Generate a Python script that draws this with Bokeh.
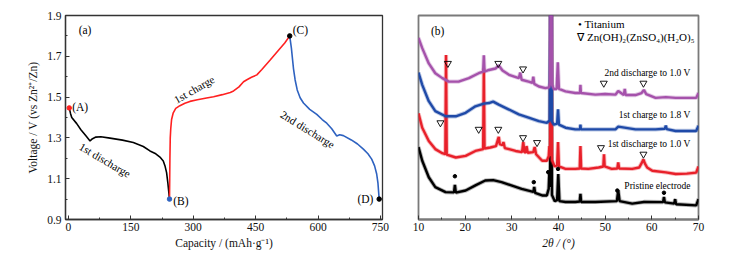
from bokeh.plotting import figure
from bokeh.layouts import row
from bokeh.models import Range1d, FixedTicker
from bokeh.core.properties import value
from bokeh.embed import file_html
from bokeh.resources import INLINE

FONT = "Liberation Serif"

# ---------------- Panel (a) data ----------------
dis1_cap = [2, 5, 8, 20, 30, 42, 52, 58, 66, 78, 100, 130, 156, 180, 196, 210, 220, 228, 232, 236, 239, 241, 243]
dis1_v = [1.447, 1.42, 1.40, 1.37, 1.34, 1.31, 1.285, 1.296, 1.304, 1.306, 1.299, 1.289, 1.277, 1.258, 1.236,
          1.222, 1.206, 1.187, 1.164, 1.13, 1.08, 1.04, 1.0]

chg1_cap = [243, 243.5, 244, 244.8, 246, 248, 252, 258, 268, 280, 292, 310, 332, 349, 370, 389, 397, 410,
            421, 429, 440, 453, 465, 485, 505, 520, 532]
chg1_v = [1.0, 1.1, 1.2, 1.3, 1.345, 1.39, 1.423, 1.445, 1.458, 1.47, 1.479, 1.487, 1.496, 1.502, 1.512,
          1.523, 1.53, 1.55, 1.575, 1.585, 1.597, 1.609, 1.635, 1.682, 1.73, 1.765, 1.8]

dis2_cap = [532, 534, 536, 538, 541, 545, 550, 557, 565, 580, 597, 610, 621, 633, 645, 652, 661, 680, 695,
            709, 720, 729, 736, 741, 744, 745.5, 747]
dis2_v = [1.8, 1.77, 1.74, 1.70, 1.64, 1.584, 1.535, 1.497, 1.471, 1.44, 1.415, 1.39, 1.372, 1.345, 1.309,
          1.315, 1.311, 1.29, 1.27, 1.245, 1.222, 1.196, 1.163, 1.123, 1.08, 1.04, 1.0]

pt_cap = [2, 243, 532, 747]
pt_v = [1.447, 1.0, 1.8, 1.0]
pt_col = ["#ff2020", "#2e62c0", "#000000", "#000000"]
pt_lab = ["(A)", "(B)", "(C)", "(D)"]

a_xticks = [0, 150, 300, 450, 600, 750]
a_xminor = [75, 225, 375, 525, 675]
a_yticks = [0.9, 1.1, 1.3, 1.5, 1.7, 1.9]
a_yminor = [1.0, 1.2, 1.4, 1.6, 1.8]

# ---------------- Panel (b) data ----------------
pur_t = [10.0, 10.8, 12.2, 13.6, 15.1, 16.5, 18.6, 20.8, 22.9, 23.85, 24.0, 24.15, 25.1, 26.5, 27.2, 28.0, 29.4,
         31.5, 31.8, 32.1, 33.6, 34.4, 34.6, 34.8, 35.8, 37.2, 38.0, 38.2, 38.4, 38.6, 39.0, 39.6, 39.85, 40.1,
         41.5, 43.6, 44.6, 44.7, 44.8, 47.9, 50.0, 52.2, 52.8, 54.0, 54.2, 54.4, 56.5, 57.8, 58.3, 58.8, 60.8,
         63.0, 65.1, 67.0, 69.5, 70.0]
pur_i = [89, 84, 76.5, 71.7, 69.3, 67.6, 67.6, 69.3, 71.7, 72.5, 80.5, 72.5, 73.3, 74, 75.5, 73, 70.9,
         69.3, 72, 68.5, 67.6, 67, 70, 66.5, 65.2, 64.4, 64.8, 67, 150, 66, 64, 64, 77, 64,
         62.8, 62, 62, 66, 62, 61.2, 61.5, 61.2, 63, 61, 64, 61, 61, 62, 63.5, 61.5, 59.6,
         60, 59.6, 59.6, 59.6, 62]

blu_t = [10.0, 10.8, 12.2, 13.6, 15.8, 18.0, 20.1, 22.2, 24.0, 25.1, 26.0, 27.2, 29.4, 31.5, 33.6, 35.8, 37.5,
         38.1, 38.4, 38.6, 39.0, 39.7, 39.9, 40.1, 41.5, 43.6, 44.6, 44.7, 44.8, 47.9, 52.2, 52.8, 56.5, 60.8,
         62.8, 63.0, 63.2, 65.1, 67.5, 69.5, 70.0]
blu_i = [72, 66, 58, 53.1, 50.6, 50.6, 52.3, 55.5, 56.8, 57.1, 57.8, 56.3, 53.9, 51.5, 49.9, 48.2, 47.4,
         48.5, 150, 48, 46.5, 47, 54, 46.5, 45, 44.2, 44.2, 46.5, 44.2, 44.2, 44.2, 45.5, 44.2, 44.2,
         44.5, 46, 44.3, 43.4, 43.4, 43.4, 46]

red_t = [10.0, 10.8, 12.2, 13.6, 15.1, 15.75, 15.9, 16.05, 18.0, 20.1, 22.2, 23.85, 24.0, 24.15, 25.4, 26.6, 27.0,
         27.2, 27.4, 28.0, 28.2, 28.5, 29.4, 30.8, 32.2, 32.45, 32.7, 33.0, 33.15, 33.4, 34.6, 34.9, 35.2, 36.5,
         37.5, 37.9, 38.05, 38.2, 38.4, 38.6, 39.2, 39.7, 39.9, 40.1, 41.5, 43.6, 44.55, 44.7, 44.85, 46.4, 48.6,
         49.6, 49.75, 49.9, 51.4, 52.6, 52.8, 53.0, 55.8, 57.3, 57.9, 58.2, 58.5, 59.0, 60.1, 63.0, 65.1, 67.5,
         69.5, 70.0]
red_i = [52, 45, 38.5, 34.5, 32.5, 32, 80.6, 31.8, 30.4, 31.2, 33.6, 34.5, 74, 34.8, 35.3, 36, 39,
         40.5, 37, 36.5, 38, 35, 34.5, 33.6, 33, 38, 33, 33, 36, 32.7, 33, 35.5, 32, 28.8,
         28.8, 31, 36, 31, 150, 29, 26, 26.5, 38, 26, 24.8, 24.8, 25, 36, 25, 24.8, 25.5,
         26, 32, 26, 24.8, 25, 28, 25, 24.8, 25.5, 28, 29.5, 27.5, 25.5, 23.9, 23.1, 22.3, 22.5,
         23, 26]

blk_t = [10.0, 10.8, 12.2, 13.6, 15.8, 17.6, 17.8, 18.0, 20.1, 22.2, 24.3, 26.0, 27.8, 29.9, 32.1, 34.6, 34.8,
         35.0, 36.5, 37.5, 37.9, 38.05, 38.2, 38.4, 38.6, 39.2, 39.7, 39.95, 40.2, 41.5, 43.6, 44.55, 44.7,
         44.85, 47.9, 52.5, 52.8, 53.1, 55.8, 58.3, 62.4, 62.6, 62.8, 64.8, 65.0, 65.2, 69.5, 70.0]
blk_i = [35.5, 28.8, 20.7, 15.9, 13.4, 13.3, 17, 13.2, 14.2, 16.7, 19.1, 19.3, 18.3, 16.7, 15, 13.5, 16,
         13, 11.8, 11.8, 15, 24, 16, 150, 12, 9, 9.5, 22.3, 9, 8.6, 8.6, 8.8, 12.6,
         8.6, 8.6, 9, 14.2, 9, 7.8, 8.6, 8.5, 11, 8.4, 7.8, 10, 7.5, 6.9, 10]

tri_t = [16.3, 27.1, 32.4, 49.7, 58.2, 14.7, 22.9, 27.1, 32.4, 35.4, 49.1, 58.2]
tri_i = [76.5, 76.5, 73.8, 66.8, 66.8, 47.4, 44.2, 44.2, 40.1, 37.7, 35.2, 32.0]
dot_t = [17.8, 34.7, 37.8, 39.9, 52.6, 62.6]
dot_i = [21.2, 18.3, 23.2, 24.8, 14.2, 13.1]

curve_labels = ["2nd discharge to 1.0 V", "1st charge to 1.8 V", "1st discharge to 1.0 V", "Pristine electrode"]
curve_label_i = [71.8, 51.0, 36.9, 16.5]

b_xticks = [10, 20, 30, 40, 50, 60, 70]
b_xminor = [15, 25, 35, 45, 55, 65]

# ---------------- Panel (a) ----------------
pa = figure(width=398, height=251, output_backend="svg", toolbar_location=None,
            x_range=Range1d(-7, 755), y_range=Range1d(0.9, 1.9),
            min_border_left=65, min_border_right=16, min_border_top=15, min_border_bottom=30)
pa.grid.visible = False
pa.outline_line_color = "#333333"
pa.outline_line_width = 1.3

pa.line(dis1_cap, dis1_v, line_color="#000000", line_width=1.6)
pa.line(chg1_cap, chg1_v, line_color="#ff2020", line_width=1.6)
pa.line(dis2_cap, dis2_v, line_color="#2e62c0", line_width=1.6)
pa.scatter(pt_cap, pt_v, size=4.5, color=pt_col)

tf = value(FONT)
pa.text([pt_cap[0] + 7], [pt_v[0] + 0.006], text=[pt_lab[0]], text_font=tf, text_font_size="11.5px",
        text_align="left", text_baseline="middle")
pa.text([pt_cap[1] + 9], [pt_v[1] - 0.011], text=[pt_lab[1]], text_font=tf, text_font_size="11.5px",
        text_align="left", text_baseline="middle")
pa.text([pt_cap[2] + 7], [pt_v[2] + 0.03], text=[pt_lab[2]], text_font=tf, text_font_size="11.5px",
        text_align="left", text_baseline="middle")
pa.text([pt_cap[3] - 14], [pt_v[3]], text=[pt_lab[3]], text_font=tf, text_font_size="11.5px",
        text_align="right", text_baseline="middle")
pa.text([40], [1.827], text=["(a)"], text_font=tf, text_font_size="11.5px",
        text_align="center", text_baseline="middle")
pa.text([88], [1.191], text=["1st discharge"], angle=-0.53, text_font=tf, text_font_size="11px",
        text_align="center", text_baseline="middle")
pa.text([302], [1.538], text=["1st charge"], angle=0.52, text_font=tf, text_font_size="11px",
        text_align="center", text_baseline="middle")
pa.text([575], [1.342], text=["2nd discharge"], angle=-0.55, text_font=tf, text_font_size="11px",
        text_align="center", text_baseline="middle")

pa.xaxis.ticker = FixedTicker(ticks=a_xticks, minor_ticks=a_xminor)
pa.yaxis.ticker = FixedTicker(ticks=a_yticks, minor_ticks=a_yminor)
pa.xaxis.axis_label = "Capacity / (mAh\u00b7g\u207b\u00b9)"
pa.yaxis.axis_label = "Voltage / V (vs Zn\u00b2\u207a/Zn)"
for ax in (pa.xaxis[0], pa.yaxis[0]):
    ax.major_tick_in = 4
    ax.major_tick_out = 0
    ax.minor_tick_in = 2
    ax.minor_tick_out = 0
    ax.axis_line_color = "#333333"
    ax.axis_line_width = 1.3
    ax.major_tick_line_color = "#333333"
    ax.minor_tick_line_color = "#333333"
    ax.major_label_text_font = FONT
    ax.major_label_text_font_size = "11.5px"
    ax.major_label_text_color = "#111111"
    ax.axis_label_text_font = FONT
    ax.axis_label_text_font_size = "11.5px"
    ax.axis_label_text_font_style = "normal"
    ax.axis_label_text_color = "#111111"
pa.xaxis.major_label_standoff = 3
pa.xaxis.axis_label_standoff = 3
pa.yaxis.major_label_standoff = 4
pa.yaxis.axis_label_standoff = 5

# ---------------- Panel (b) ----------------
pb = figure(width=310, height=251, output_backend="svg", toolbar_location=None,
            x_range=Range1d(10, 70), y_range=Range1d(0, 100),
            min_border_left=20, min_border_right=10, min_border_top=15, min_border_bottom=30)
pb.grid.visible = False
pb.outline_line_color = "#7a7a7a"
pb.outline_line_width = 1.8
pb.yaxis.visible = False

series = [(blk_t, blk_i, "#000000"), (red_t, red_i, "#e8202a"),
          (blu_t, blu_i, "#1f4aa8"), (pur_t, pur_i, "#a552ab")]
for tt, ii, col in series:
    pb.line(tt, ii, line_color=col, line_width=4.2, line_alpha=0.3)
    pb.line(tt, ii, line_color=col, line_width=2.4)

pb.scatter(tri_t, tri_i, marker="inverted_triangle", size=7, fill_color=None,
           line_color="#000000", line_width=0.9)
pb.scatter(dot_t, dot_i, marker="circle", size=3.5, color="#000000")

pb.text([68.3] * 4, curve_label_i, text=curve_labels, text_font=tf, text_font_size="9.5px",
        text_align="right", text_baseline="middle")
pb.text([14.1], [92.2], text=["(b)"], text_font=tf, text_font_size="11.5px",
        text_align="center", text_baseline="middle")
pb.text([44.2], [95.6], text=["\u2022 Titanium"], text_font=tf, text_font_size="11px",
        text_align="left", text_baseline="middle")
pb.text([44.0], [89.3], text=["\u2207 Zn(OH)\u2082(ZnSO\u2084)(H\u2082O)\u2085"], text_font=tf,
        text_font_size="11px", text_align="left", text_baseline="middle")

pb.xaxis.ticker = FixedTicker(ticks=b_xticks, minor_ticks=b_xminor)
pb.xaxis.axis_label = "2\u03b8 / (\u00b0)"
ax = pb.xaxis[0]
ax.major_tick_in = 4
ax.major_tick_out = 0
ax.minor_tick_in = 2
ax.minor_tick_out = 0
ax.axis_line_color = "#7a7a7a"
ax.axis_line_width = 1.8
ax.major_tick_line_color = "#333333"
ax.minor_tick_line_color = "#333333"
ax.major_label_text_font = FONT
ax.major_label_text_font_size = "11.5px"
ax.major_label_text_color = "#111111"
ax.axis_label_text_font = FONT
ax.axis_label_text_font_size = "11.5px"
ax.axis_label_text_font_style = "italic"
ax.axis_label_text_color = "#111111"
ax.major_label_standoff = 3
ax.axis_label_standoff = 3

layout = row(pa, pb)
open("out.html", "w").write(file_html(layout, INLINE))
